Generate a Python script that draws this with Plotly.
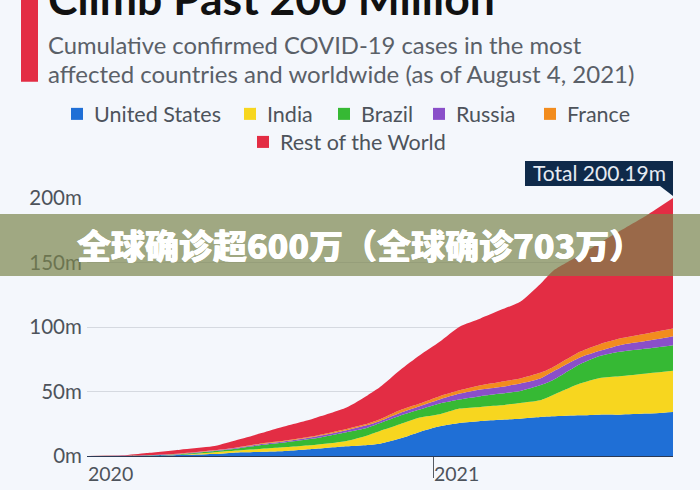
import plotly.graph_objects as go

# cumulative top edge of each band (millions)
dates = ["2020-01-22", "2020-02-25", "2020-03-19", "2020-04-20", "2020-05-21", "2020-06-10",
         "2020-07-05", "2020-07-24", "2020-08-25", "2020-09-26", "2020-10-16", "2020-10-28",
         "2020-11-16", "2020-12-05", "2020-12-24", "2021-01-12", "2021-02-01", "2021-02-20",
         "2021-03-11", "2021-03-30", "2021-04-11", "2021-05-07", "2021-05-26", "2021-06-14",
         "2021-07-10", "2021-08-04"]
us_top = [0, 0.1, 0.3, 0.7, 1.5, 2.6, 3.1, 3.6, 5.4, 7.5, 8.6, 9.6, 13.5, 18.7, 23.0, 25.6, 27.2,
          28.2, 29.0, 30.3, 30.8, 31.6, 32.1, 32.1, 32.9, 34.2]
india_top = [0, 0.1, 0.4, 1.0, 2.8, 4.1, 5.4, 6.5, 8.5, 11.7, 16.0, 19.4, 24.6, 29.8, 32.4, 36.8,
             38.1, 39.4, 41.2, 43.3, 47.2, 56.2, 60.6, 61.9, 64.0, 66.1]
brazil_top = [0, 0.1, 0.5, 1.4, 3.6, 5.4, 8.3, 10.0, 13.5, 18.5, 22.0, 25.6, 31.3, 36.0, 40.7, 43.8,
              46.4, 48.4, 50.5, 54.9, 58.8, 71.2, 77.5, 80.8, 83.4, 86.0]
russia_top = [0, 0.1, 0.5, 1.7, 4.1, 6.0, 9.2, 10.9, 14.8, 20.0, 24.0, 27.2, 33.4, 38.6, 43.8, 48.4,
              51.6, 53.6, 56.2, 60.1, 65.3, 76.4, 81.6, 86.0, 89.4, 93.0]
france_top = [0, 0.2, 0.6, 1.9, 4.4, 6.3, 9.6, 11.4, 15.3, 21.0, 25.0, 28.5, 35.5, 40.7, 46.4, 51.0,
              54.9, 57.5, 60.1, 64.5, 68.7, 80.8, 86.8, 91.2, 95.1, 99.0]
world_top = [0, 0.5, 2.3, 4.9, 7.5, 11.7, 17.4, 22.0, 29.0, 37.6, 47.0, 53.5, 66.6, 78.2, 88.6, 100.3,
             106.7, 113.2, 119.7, 133.3, 143.4, 155.9, 165.2, 174.5, 186.9, 200.19]

series_names = ["United States", "India", "Brazil", "Russia", "France", "Rest of the World"]
series_tops = [us_top, india_top, brazil_top, russia_top, france_top, world_top]
series_colors = ["#1f6fd6", "#f7d61f", "#36b934", "#8a4fc9", "#f28c1e", "#e32d44"]

y_ticks = [0, 50, 100, 150, 200]
y_tick_labels = ["0m", "50m", "100m", "150m", "200m"]
year_dates = ["2020-01-22", "2020-12-18"]
year_labels = ["2020", "2021"]

BG = "#f4f7fc"
L, R, T, B = 87, 673, 198, 455.6


def px(x):
    return (x - L) / (R - L)


def py(y):
    return (B - y) / (B - T)


fig = go.Figure()
for name, top, color in zip(series_names, series_tops, series_colors):
    fig.add_trace(go.Scatter(x=dates, y=top, name=name, mode="lines",
                             line=dict(width=0, color=color, shape="spline", smoothing=0.6),
                             fill="tonexty" if name != "United States" else "tozeroy",
                             fillcolor=color, hoverinfo="skip", showlegend=False))

notes = []


def note(text, x, y, size, color, anchor="left", bold=False, family="Lato", weight=None, shadow=None):
    if bold:
        text = "<b>" + text + "</b>"
    font = dict(size=size, color=color, family=family)
    if weight:
        font["weight"] = weight
    if shadow:
        font["shadow"] = shadow
    notes.append(dict(text=text, x=px(x), y=py(y), xref="paper", yref="paper", xanchor=anchor,
                      yanchor="middle", showarrow=False, font=font))


note("Climb Past 200 Million", 46, -2, 44.5, "#111111", bold=True)
note("Cumulative confirmed COVID-19 cases in the most", 46, 45, 23.8, "#5a6068")
note("affected countries and worldwide (as of August 4, 2021)", 46, 74, 24, "#5a6068")

shapes = [dict(type="rect", xref="paper", yref="paper", x0=px(21), x1=px(38), y0=py(0), y1=py(82),
               fillcolor="#e32d44", line_width=0)]

legend_x = [71, 244, 338, 433, 544, 257]
legend_y = [114, 114, 114, 114, 114, 142]
for name, color, x, y in zip(series_names, series_colors, legend_x, legend_y):
    shapes.append(dict(type="rect", xref="paper", yref="paper", x0=px(x), x1=px(x + 12), y0=py(y - 6),
                       y1=py(y + 6), fillcolor=color, line_width=0))
    note(name, x + 21, y, 21.5, "#4d535b")

# callout above the last point
shapes.append(dict(type="rect", xref="paper", yref="paper", x0=px(525), x1=px(673), y0=py(161), y1=py(186),
                   fillcolor="#0f2a4a", line_width=0))
shapes.append(dict(type="path", xref="paper", yref="paper", fillcolor="#0f2a4a", line_width=0,
                   path="M %f,%f L %f,%f L %f,%f Z" % (px(660), py(186), px(673), py(186), px(673), py(196))))
note("Total 200.19m", 599, 173, 21, "#e6ebf2", anchor="center")

# banner laid over the chart
shapes.append(dict(type="rect", xref="paper", yref="paper", x0=px(0), x1=px(700), y0=py(214), y1=py(276),
                   fillcolor="rgba(122,132,75,0.69)", line_width=0, layer="above"))
note("全球确诊超600万（全球确诊703万）", 75, 244, 34, "#ffffff",
     family="Noto Sans CJK SC Black, Noto Sans CJK SC", weight=900,
     shadow="0.4px 0 0 #fff, -0.4px 0 0 #fff")

for d, label in zip(year_dates, year_labels):
    notes.append(dict(text=label, x=d, y=0, xref="x", yref="y", xanchor="left", yanchor="top", xshift=-1,
                      yshift=-4, showarrow=False, font=dict(size=19.5, color="#4d535b", family="Lato")))

fig.update_layout(
    width=700, height=490, autosize=False,
    margin=dict(l=L, r=700 - R, t=T, b=490 - B, pad=0),
    paper_bgcolor=BG, plot_bgcolor=BG,
    annotations=notes, shapes=shapes,
    xaxis=dict(type="date", range=[dates[0], dates[-1]], showgrid=False, zeroline=False,
               tickvals=year_dates[1:], ticktext=[""], ticks="outside", ticklen=21, tickcolor="#555b63",
               tickwidth=1, showline=True, linecolor="#2b3a55", linewidth=1),
    yaxis=dict(range=[0, 200.19], tickvals=y_ticks, ticktext=y_tick_labels, showgrid=True,
               gridcolor="#d5d9e0", gridwidth=1, zeroline=False, ticks="outside", ticklen=0, tickcolor=BG,
               tickfont=dict(size=20.5, color="#4d535b", family="Lato")),
)

fig.write_html("out.html", config={"displayModeBar": False}, post_script="document.body.style.margin='0';")
